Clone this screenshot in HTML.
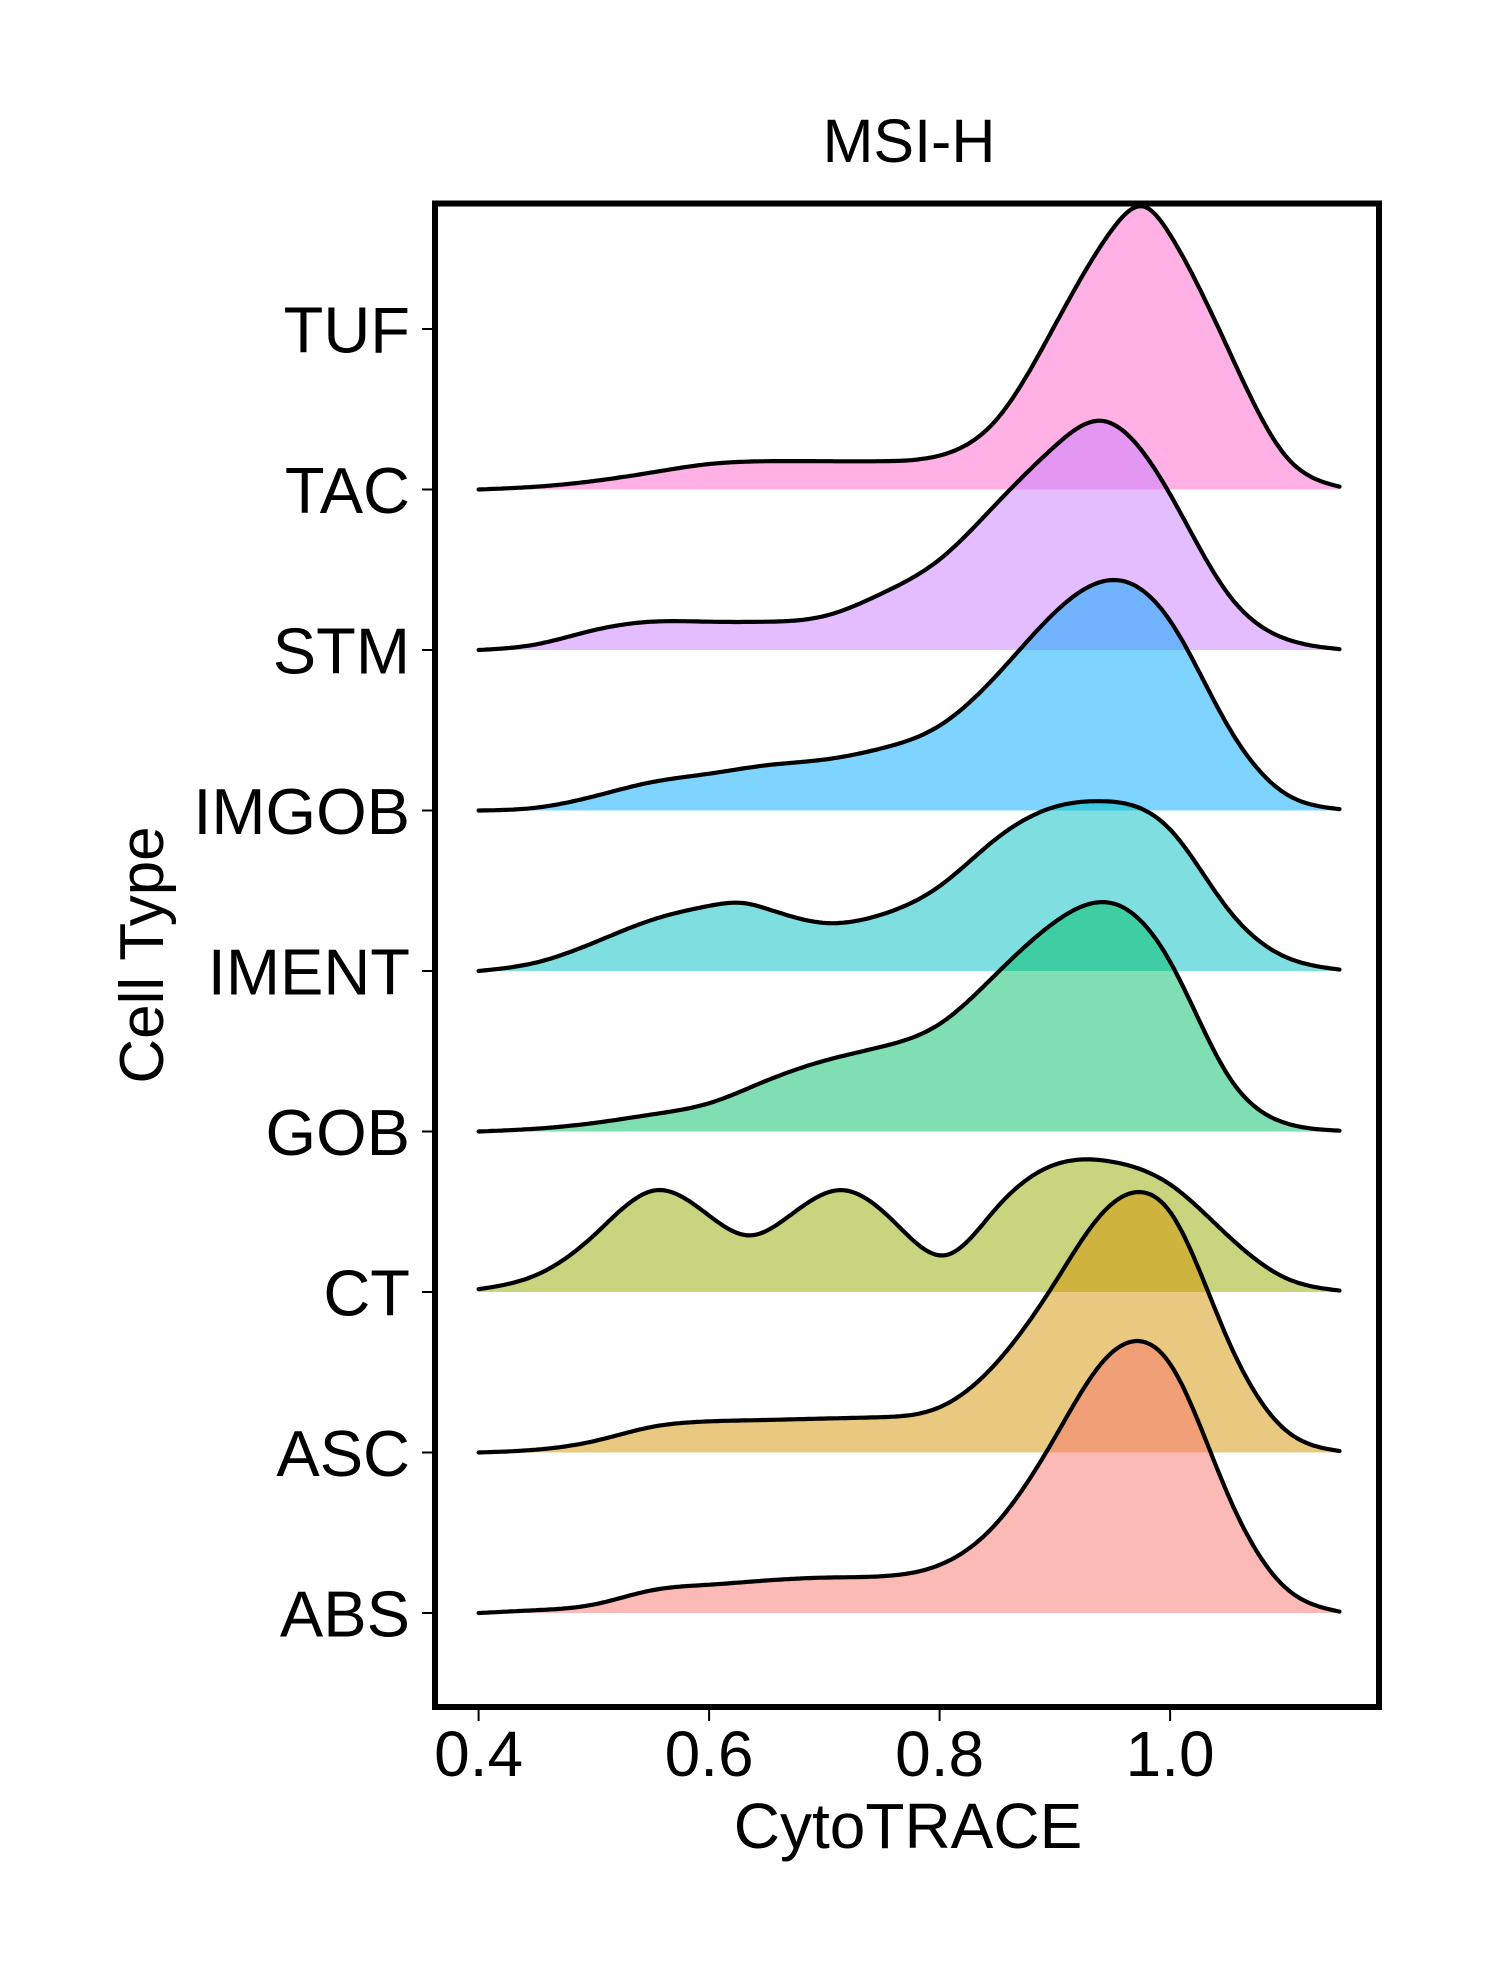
<!DOCTYPE html>
<html><head><meta charset="utf-8"><style>
html,body{margin:0;padding:0;background:#fff}
svg{display:block}
text{font-family:"Liberation Sans",sans-serif;fill:#000}
</style></head><body>
<svg id="chart" width="1500" height="1980" viewBox="0 0 1500 1980" xmlns="http://www.w3.org/2000/svg">
<text x="909" y="162" font-size="61" text-anchor="middle">MSI-H</text>
<g id="curves"></g>
<rect x="435" y="203.5" width="944" height="1503.5" fill="none" stroke="#000" stroke-width="6"/>
<g id="yaxis"></g>
<g id="xaxis"></g>
<text x="908" y="1848" font-size="64" text-anchor="middle">CytoTRACE</text>
<text transform="translate(163,955) rotate(-90)" font-size="62" text-anchor="middle">Cell Type</text>
</svg>
<script>
const categories = ["ABS","ASC","CT","GOB","IMENT","IMGOB","STM","TAC","TUF"];
const xTicks = [0.4, 0.6, 0.8, 1.0];
const xTickLabels = ["0.4","0.6","0.8","1.0"];
const seriesNames = ["ABS","ASC","CT","GOB","IMENT","IMGOB","STM","TUF"];
const seriesColors = ["#F8766D","#D39200","#93AA00","#00BD66","#00BDC2","#00A9FF","#C77CFF","#FF61C9"];
const absX = [0.4,0.45,0.5,0.55,0.6,0.65,0.7,0.75,0.8,0.85,0.9,0.94,0.975,1.0,1.05,1.1,1.147];
const absY = [0,0.01,0.03,0.08,0.1,0.115,0.125,0.13,0.17,0.32,0.62,0.88,0.96,0.88,0.42,0.09,0.005];
const ascX = [0.4,0.45,0.5,0.55,0.6,0.65,0.7,0.75,0.8,0.85,0.9,0.94,0.975,1.0,1.05,1.1,1.147];
const ascY = [0,0.01,0.04,0.09,0.11,0.115,0.12,0.125,0.16,0.32,0.6,0.84,0.92,0.85,0.4,0.08,0.005];
const ctX = [0.4,0.45,0.5,0.555,0.6,0.635,0.67,0.715,0.76,0.805,0.85,0.9,0.95,1.0,1.05,1.1,1.147];
const ctY = [0.01,0.06,0.2,0.36,0.27,0.2,0.27,0.36,0.25,0.13,0.3,0.45,0.46,0.38,0.2,0.05,0.005];
const gobX = [0.4,0.45,0.5,0.55,0.6,0.65,0.7,0.75,0.8,0.85,0.9,0.955,1.0,1.05,1.1,1.147];
const gobY = [0,0.01,0.03,0.06,0.1,0.18,0.25,0.3,0.38,0.56,0.74,0.8,0.6,0.2,0.03,0.003];
const imentX = [0.4,0.45,0.5,0.55,0.6,0.63,0.65,0.7,0.75,0.8,0.85,0.9,0.94,1.0,1.05,1.1,1.147];
const imentY = [0,0.03,0.1,0.18,0.23,0.24,0.22,0.17,0.2,0.3,0.47,0.58,0.6,0.5,0.22,0.05,0.005];
const imgobX = [0.4,0.45,0.5,0.55,0.6,0.65,0.7,0.75,0.8,0.85,0.9,0.96,1.0,1.05,1.1,1.147];
const imgobY = [0,0.01,0.05,0.1,0.13,0.16,0.18,0.22,0.3,0.48,0.7,0.81,0.67,0.3,0.06,0.005];
const stmX = [0.4,0.45,0.5,0.55,0.6,0.65,0.7,0.75,0.8,0.85,0.9,0.94,1.0,1.05,1.1,1.147];
const stmY = [0,0.02,0.07,0.1,0.1,0.1,0.12,0.2,0.32,0.52,0.72,0.81,0.55,0.2,0.04,0.003];
const tufX = [0.4,0.45,0.5,0.55,0.6,0.65,0.7,0.75,0.8,0.85,0.9,0.95,0.977,1.0,1.05,1.1,1.147];
const tufY = [0,0.01,0.03,0.06,0.09,0.1,0.1,0.1,0.12,0.25,0.58,0.92,1.0,0.9,0.5,0.12,0.01];
const seriesX = [absX,ascX,ctX,gobX,imentX,imgobX,stmX,tufX];
const seriesY = [absY,ascY,ctY,gobY,imentY,imgobY,stmY,tufY];
const seriesBaseIndex = [0,1,2,3,4,5,6,7];

const NS = "http://www.w3.org/2000/svg";
const xScale = v => 478.6 + (v - 0.4) * 1152.5;
const catY = i => 1613 - i * 160.5;
const hScale = d => d * 283;

function spline(xs, ys){
  const n = xs.length, h = [], a = [], l = [1], mu = [0], z = [0], c = new Array(n).fill(0), b = [], d = [];
  for (let i = 0; i < n-1; i++) h.push(xs[i+1]-xs[i]);
  for (let i = 1; i < n-1; i++) a[i] = 3/h[i]*(ys[i+1]-ys[i]) - 3/h[i-1]*(ys[i]-ys[i-1]);
  for (let i = 1; i < n-1; i++) { l[i] = 2*(xs[i+1]-xs[i-1]) - h[i-1]*mu[i-1]; mu[i] = h[i]/l[i]; z[i] = (a[i]-h[i-1]*z[i-1])/l[i]; }
  l[n-1] = 1; z[n-1] = 0;
  for (let j = n-2; j >= 0; j--) { c[j] = z[j] - mu[j]*c[j+1]; b[j] = (ys[j+1]-ys[j])/h[j] - h[j]*(c[j+1]+2*c[j])/3; d[j] = (c[j+1]-c[j])/(3*h[j]); }
  return v => {
    let i = 0; while (i < n-2 && v > xs[i+1]) i++;
    const t = v - xs[i];
    return Math.max(0, ys[i] + b[i]*t + c[i]*t*t + d[i]*t*t*t);
  };
}

const curves = document.getElementById("curves");
for (let s = seriesNames.length - 1; s >= 0; s--) {
  const base = catY(seriesBaseIndex[s]);
  const xs = seriesX[s], f = spline(xs, seriesY[s]);
  const x0 = xs[0], x1 = xs[xs.length-1], N = 300;
  let line = "";
  for (let k = 0; k <= N; k++) {
    const v = x0 + (x1 - x0) * k / N;
    line += (k ? "L" : "M") + xScale(v).toFixed(1) + "," + (base - hScale(f(v))).toFixed(1);
  }
  const g = document.createElementNS(NS, "g");
  
  
  const fill = document.createElementNS(NS, "path");
  
  
  fill.setAttribute("d", line + "L" + xScale(x1).toFixed(1) + "," + base + "L" + xScale(x0).toFixed(1) + "," + base + "Z");
  fill.setAttribute("fill", seriesColors[s]);
  fill.setAttribute("fill-opacity", "0.5");
  const stroke = document.createElementNS(NS, "path");
  
  
  stroke.setAttribute("d", line);
  stroke.setAttribute("fill", "none");
  stroke.setAttribute("stroke", "#000");
  stroke.setAttribute("stroke-width", "4.2");
  stroke.setAttribute("stroke-linecap", "round");
  stroke.setAttribute("stroke-linejoin", "round");
  g.appendChild(fill); g.appendChild(stroke);
  curves.appendChild(g);
}

const yaxis = document.getElementById("yaxis");
categories.forEach((c, i) => {
  const y = catY(i);
  const t = document.createElementNS(NS, "line");
  
  
  t.setAttribute("x1", 422); t.setAttribute("x2", 433);
  t.setAttribute("y1", y); t.setAttribute("y2", y);
  t.setAttribute("stroke", "#000"); t.setAttribute("stroke-width", "2");
  yaxis.appendChild(t);
  const lab = document.createElementNS(NS, "text");
  
  
  lab.setAttribute("x", 410); lab.setAttribute("y", y + 23.5);
  lab.setAttribute("font-size", "65"); lab.setAttribute("text-anchor", "end");
  lab.textContent = c;
  yaxis.appendChild(lab);
});

const xaxis = document.getElementById("xaxis");
xTicks.forEach((v, i) => {
  const x = xScale(v);
  const t = document.createElementNS(NS, "line");
  
  
  t.setAttribute("x1", x); t.setAttribute("x2", x);
  t.setAttribute("y1", 1710); t.setAttribute("y2", 1721);
  t.setAttribute("stroke", "#000"); t.setAttribute("stroke-width", "2");
  xaxis.appendChild(t);
  const lab = document.createElementNS(NS, "text");
  
  
  lab.setAttribute("x", x); lab.setAttribute("y", 1776);
  lab.setAttribute("font-size", "64"); lab.setAttribute("text-anchor", "middle");
  lab.textContent = xTickLabels[i];
  xaxis.appendChild(lab);
});
</script>
</body></html>
